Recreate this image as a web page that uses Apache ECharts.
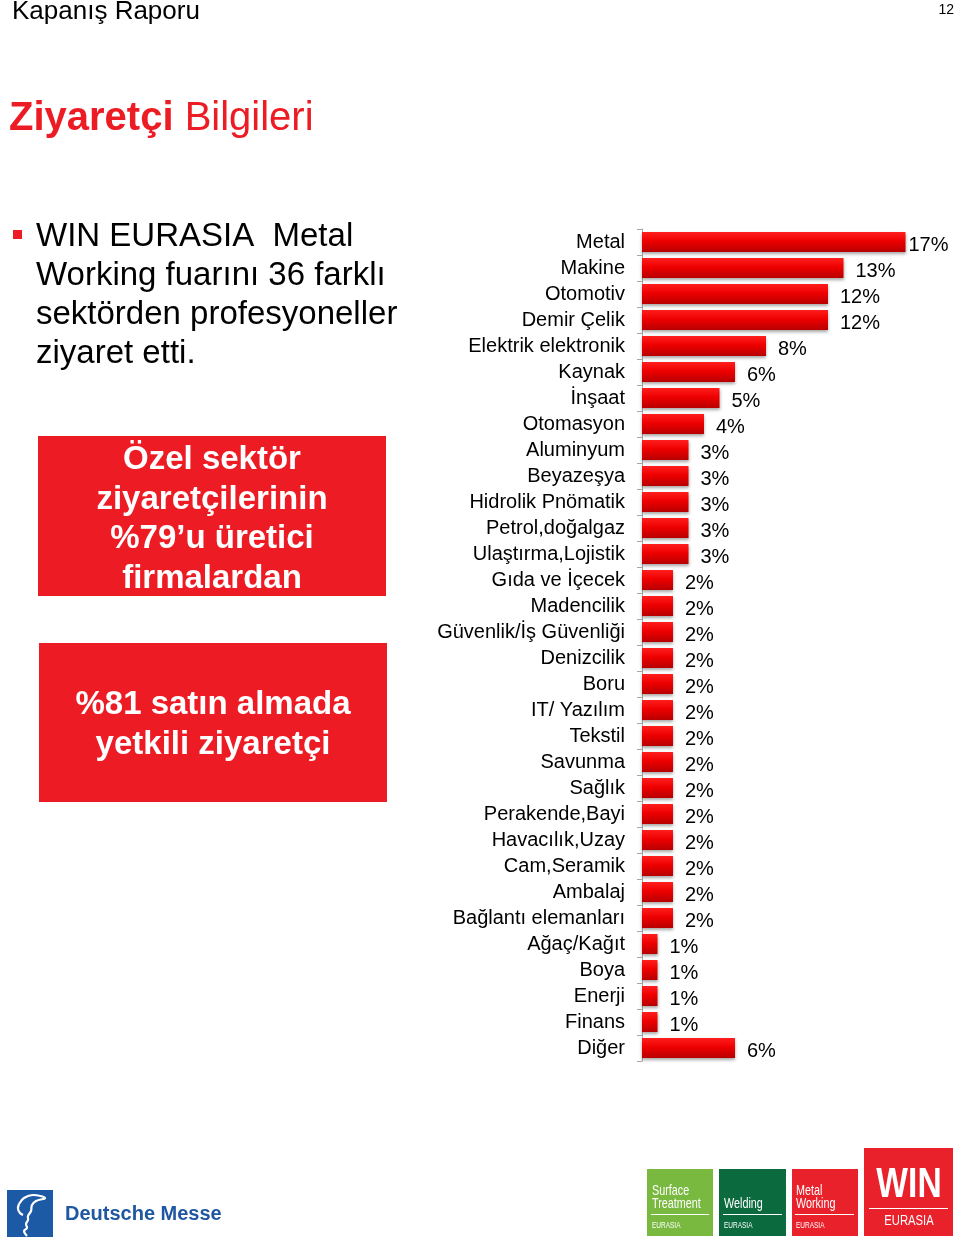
<!DOCTYPE html>
<html>
<head>
<meta charset="utf-8">
<script src="https://cdn.jsdelivr.net/npm/echarts@6/dist/echarts.min.js"></script>
<style>
html,body{margin:0;padding:0;background:#fff;}
#chart{width:960px;height:1238px;}
</style>
</head>
<body>
<div id="chart"></div>
<script>
// ---- data ----
const categories = ['Metal','Makine','Otomotiv','Demir Çelik','Elektrik elektronik','Kaynak','İnşaat','Otomasyon','Aluminyum','Beyazeşya','Hidrolik Pnömatik','Petrol,doğalgaz','Ulaştırma,Lojistik','Gıda ve İçecek','Madencilik','Güvenlik/İş Güvenliği','Denizcilik','Boru','IT/ Yazılım','Tekstil','Savunma','Sağlık','Perakende,Bayi','Havacılık,Uzay','Cam,Seramik','Ambalaj','Bağlantı elemanları','Ağaç/Kağıt','Boya','Enerji','Finans','Diğer'];
const values = [17,13,12,12,8,6,5,4,3,3,3,3,3,2,2,2,2,2,2,2,2,2,2,2,2,2,2,1,1,1,1,6];
const headerText = 'Kapanış Raporu';
const pageNumber = '12';
const bulletLines = ['WIN EURASIA  Metal','Working fuarını 36 farklı','sektörden profesyoneller','ziyaret etti.'];
const box1Lines = ['Özel sektör','ziyaretçilerinin','%79’u üretici','firmalardan'];
const box2Lines = ['%81 satın almada','yetkili ziyaretçi'];

const FONT = '"Liberation Sans", Arial, Helvetica, sans-serif';
const RED = '#ed1c24';

const chart = echarts.init(document.getElementById('chart'), null, {renderer:'canvas'});

const barData = values.map((v, i) => i === 0 ? {value: v, label: {distance: 3}} : v);

const g = [];
function txt(text, x, y, size, opts) {
  opts = opts || {};
  g.push({type:'text', z:10, x, y, scaleX: opts.sx || 1,
    style:{text, x:0, y:0, fontSize:size, fontFamily:FONT,
    fontWeight:opts.weight || 'normal', fill:opts.fill || '#000', align:opts.align || 'left', verticalAlign:'middle'}});
}
function rect(x, y, w, h, fill) {
  g.push({type:'rect', z:5, shape:{x, y, width:w, height:h}, style:{fill}});
}
function line(x1, y1, x2, y2) {
  g.push({type:'line', z:10, shape:{x1, y1, x2, y2}, style:{stroke:'#fff', lineWidth:1}});
}

// header
txt(headerText, 12, 12, 26);
txt(pageNumber, 954, 10, 14, {align:'right'});
g.push({type:'text', z:10, style:{text:'{b|Ziyaretçi} Bilgileri', x:9, y:119, fontSize:40, fontFamily:FONT, fill:RED, verticalAlign:'middle',
  rich:{b:{fontSize:40, fontWeight:'bold', fontFamily:FONT, fill:RED}}}});

// bullet
rect(13, 230, 9, 9, RED);
bulletLines.forEach((t, i) => txt(t, 36, 237 + i * 39, 33));

// red boxes
rect(38, 436, 348, 160, RED);
box1Lines.forEach((t, i) => txt(t, 212, 460 + i * 39.5, 33, {weight:'bold', fill:'#fff', align:'center'}));
rect(39, 643, 348, 159, RED);
box2Lines.forEach((t, i) => txt(t, 213, 705 + i * 40, 33, {weight:'bold', fill:'#fff', align:'center'}));

// Deutsche Messe logo
rect(7, 1190, 46, 47, '#1d5aa5');
g.push({type:'polyline', z:11, shape:{smooth:0.4, points:[[19,1204],[24,1198],[33,1195],[45,1198],[36,1201],[32,1205],[31,1211],[28,1216],[28,1220],[26,1224],[27,1228],[24,1231],[27,1236]]},
  style:{stroke:'#fff', lineWidth:2.2, fill:null}});
g.push({type:'polyline', z:11, shape:{smooth:0.4, points:[[19,1204],[18,1209],[20,1213],[23,1215]]}, style:{stroke:'#fff', lineWidth:2.2, fill:null}});
txt('Deutsche Messe', 65, 1214, 20, {weight:'bold', fill:'#1f57a0'});

// fair logos
const SX = 0.72;
rect(647, 1169, 66, 67, '#7ab940');
txt('Surface', 652, 1191, 15, {sx:SX, fill:'#fff'});
txt('Treatment', 652, 1204, 15, {sx:SX, fill:'#fff'});
line(651, 1214.5, 709, 1214.5);
txt('EURASIA', 652, 1226, 9, {sx:SX, fill:'#fff'});

rect(719, 1169, 67, 67, '#0b6a3e');
txt('Welding', 724, 1204, 15, {sx:SX, fill:'#fff'});
line(723, 1214.5, 782, 1214.5);
txt('EURASIA', 724, 1226, 9, {sx:SX, fill:'#fff'});

rect(792, 1169, 66, 67, '#e8212b');
txt('Metal', 796, 1191, 15, {sx:SX, fill:'#fff'});
txt('Working', 796, 1204, 15, {sx:SX, fill:'#fff'});
line(795, 1214.5, 854, 1214.5);
txt('EURASIA', 796, 1226, 9, {sx:SX, fill:'#fff'});

rect(864, 1148, 89, 88, '#e8212b');
txt('WIN', 909, 1185, 42, {sx:0.8, weight:'bold', fill:'#fff', align:'center'});
line(869, 1208.5, 948, 1208.5);
txt('EURASIA', 909, 1221, 15, {sx:0.75, fill:'#fff', align:'center'});

chart.setOption({
  animation:false,
  backgroundColor:'#fff',
  grid:{left:642, top:229, width:310, height:832, containLabel:false},
  xAxis:{type:'value', min:0, max:20, show:false},
  yAxis:{type:'category', data:categories, inverse:true,
    axisLine:{show:true, lineStyle:{color:'#a8a8a8', width:1}},
    axisTick:{show:true, length:5, interval:0, lineStyle:{color:'#a8a8a8'}},
    axisLabel:{color:'#000', fontSize:20, fontFamily:FONT, margin:17, interval:0}},
  series:[{type:'bar', data:barData, barWidth:20,
    itemStyle:{color:new echarts.graphic.LinearGradient(0,0,0,1,[
      {offset:0, color:'#ff1e1e'},{offset:0.45, color:'#ee0000'},{offset:1, color:'#b80000'}]),
      shadowColor:'rgba(0,0,0,0.35)', shadowBlur:3, shadowOffsetY:2},
    label:{show:true, position:'right', distance:12, formatter:'{c}%', fontSize:20, fontFamily:FONT, color:'#000', offset:[0,3]}}],
  graphic:g
});
</script>
</body>
</html>
